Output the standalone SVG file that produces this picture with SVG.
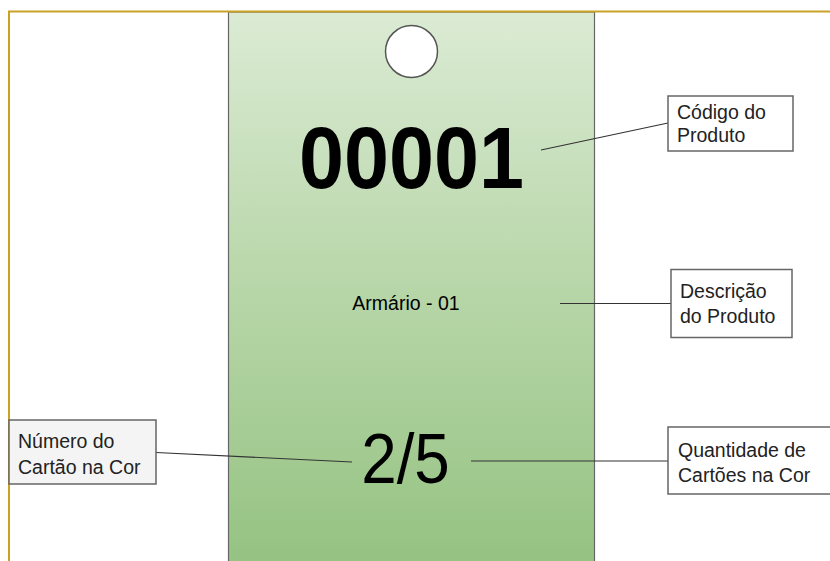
<svg xmlns="http://www.w3.org/2000/svg" width="830" height="561" viewBox="0 0 830 561">
  <defs>
    <linearGradient id="cardFill" x1="0" y1="0" x2="0" y2="1">
      <stop offset="0" stop-color="#dbebd4"/>
      <stop offset="0.5" stop-color="#b7d6a8"/>
      <stop offset="1" stop-color="#94c281"/>
    </linearGradient>
  </defs>
  <style>
    .frame { fill: none; stroke: #c9a227; stroke-width: 2; }
    .label rect { fill: #ffffff; stroke: #666666; stroke-width: 1.5; }
    .label text { font-family: "Liberation Sans", Arial, sans-serif; font-size: 19.5px; fill: #222222; }
    .conn line { stroke: #333333; stroke-width: 1.2; }
    .card-text { font-family: "Liberation Sans", Arial, sans-serif; fill: #000000; text-anchor: middle; }
  </style>

  <rect width="830" height="561" fill="#ffffff"/>

  <!-- tag card -->
  <g id="card">
    <rect x="228.5" y="12" width="366" height="560" fill="url(#cardFill)" stroke="#666666" stroke-width="1.2"/>
    <circle cx="411.5" cy="51.5" r="26" fill="#ffffff" stroke="#555555" stroke-width="1.5"/>
    <text class="card-text" x="411.5" y="188" font-size="87" font-weight="bold" transform="translate(411.5 0) scale(0.93 1) translate(-411.5 0)">00001</text>
    <text class="card-text" x="406" y="310" font-size="19.5" fill="#111111">Armário - 01</text>
    <text class="card-text" x="405.5" y="483" font-size="70" transform="translate(405.5 0) scale(0.91 1) translate(-405.5 0)">2/5</text>
  </g>

  <!-- outer frame -->
  <path class="frame" d="M9 575 V11.5 H832"/>

  <!-- connectors -->
  <g class="conn">
    <line x1="541" y1="150" x2="668" y2="123"/>
    <line x1="560" y1="303.5" x2="671" y2="303.5"/>
    <line x1="156" y1="452.5" x2="352" y2="462"/>
    <line x1="471" y1="461" x2="668" y2="461"/>
  </g>

  <g id="label-codigo" class="label">
    <rect x="668" y="96" width="125" height="55"/>
    <text x="677" y="119">Código do</text>
    <text x="677" y="142">Produto</text>
  </g>

  <g id="label-descricao" class="label">
    <rect x="671" y="269.5" width="121" height="68"/>
    <text x="680" y="298">Descrição</text>
    <text x="680" y="323">do Produto</text>
  </g>

  <g id="label-numero" class="label">
    <rect x="9" y="420" width="147" height="64" style="fill:#f4f4f4"/>
    <text x="18" y="447.5">Número do</text>
    <text x="18" y="473.5">Cartão na Cor</text>
  </g>

  <g id="label-quantidade" class="label">
    <rect x="668" y="427" width="170" height="67"/>
    <text x="678" y="456.5">Quantidade de</text>
    <text x="678" y="481.5">Cartões na Cor</text>
  </g>
</svg>
